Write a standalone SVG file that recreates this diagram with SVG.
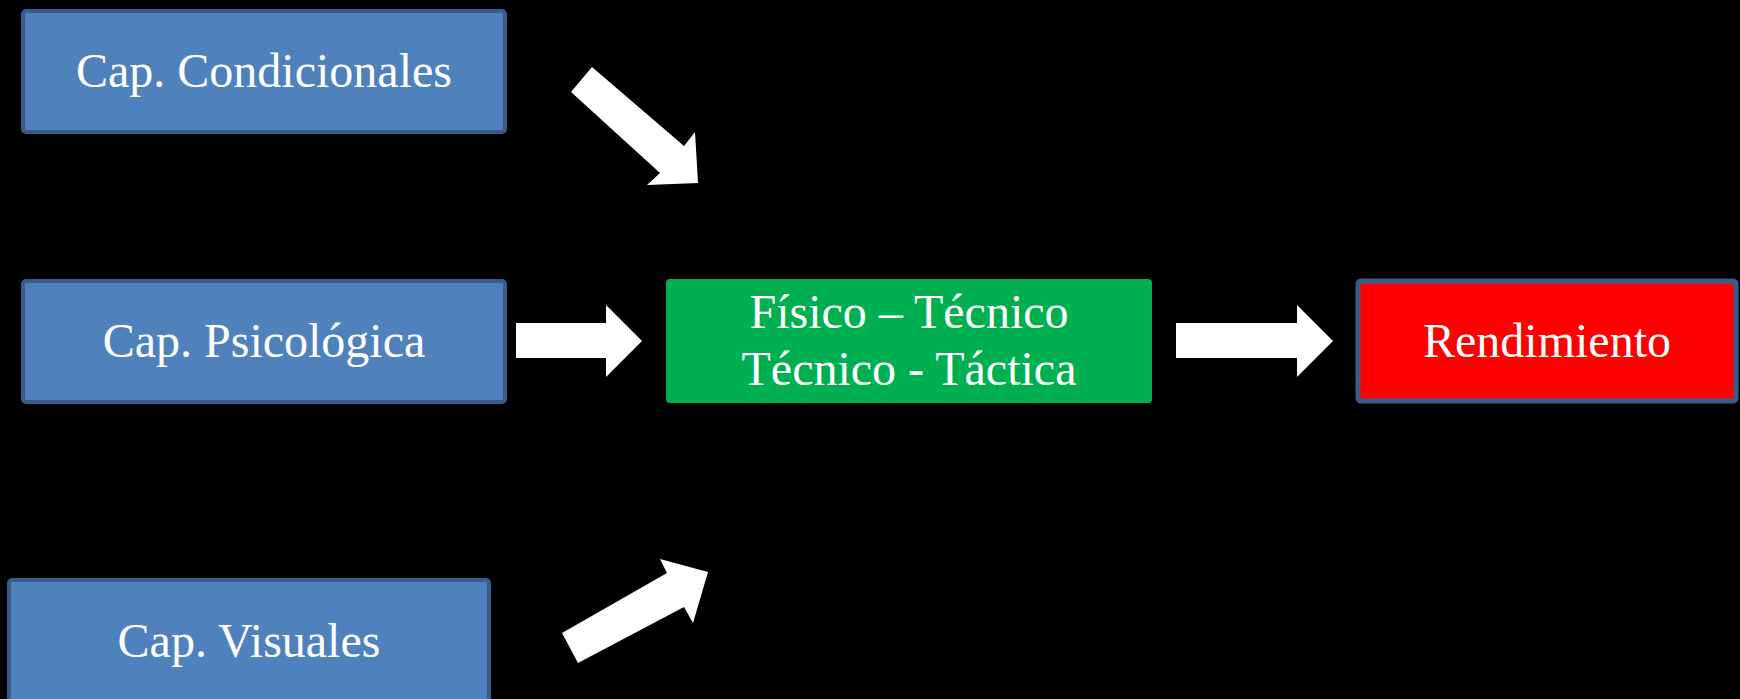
<svg xmlns="http://www.w3.org/2000/svg" width="1740" height="699" viewBox="0 0 1740 699">
<style>
.blue{fill:#4F81BD;stroke:#385D8A;stroke-width:4}
.green{fill:#00B050;stroke:#00B050;stroke-width:2}
.red{fill:#FF0000;stroke:#385D8A;stroke-width:5}
.t{font-family:"Liberation Serif","Times New Roman",serif;font-size:48px;fill:#FFFFFF;text-anchor:middle}
.arrow{fill:#FFFFFF}
</style>
<rect x="0" y="0" width="1740" height="699" fill="#000000"/>
<g id="connectors">
<polygon class="arrow" points="571,92 592,67 684,146 695,132 698,183 647,185 660,173"/>
<polygon class="arrow" points="516,323 606,323 606,305 642,341 606,377 606,358 516,358"/>
<polygon class="arrow" points="562,633 578,663 684,607 693,623 708,572 660,559 667,573"/>
<polygon class="arrow" points="1176,323 1297,323 1297,305 1333,341 1297,377 1297,358 1176,358"/>
</g>
<g id="cond">
<rect class="blue" x="23" y="11" width="482" height="121" rx="3"/>
<text class="t" x="264" y="87">Cap. Condicionales</text>
</g>
<g id="psico">
<rect class="blue" x="23" y="281" width="482" height="121" rx="3"/>
<text class="t" x="264" y="357">Cap. Psicológica</text>
</g>
<g id="visual">
<rect class="blue" x="9" y="580" width="480" height="130" rx="3"/>
<text class="t" x="249" y="657">Cap. Visuales</text>
</g>
<g id="fisico">
<rect class="green" x="667" y="280" width="484" height="122" rx="3"/>
<text class="t" x="909" y="328">Físico – Técnico</text>
<text class="t" x="909" y="385">Técnico - Táctica</text>
</g>
<g id="rend">
<rect class="red" x="1358" y="281" width="378" height="120" rx="3"/>
<text class="t" x="1547" y="357">Rendimiento</text>
</g>
</svg>
